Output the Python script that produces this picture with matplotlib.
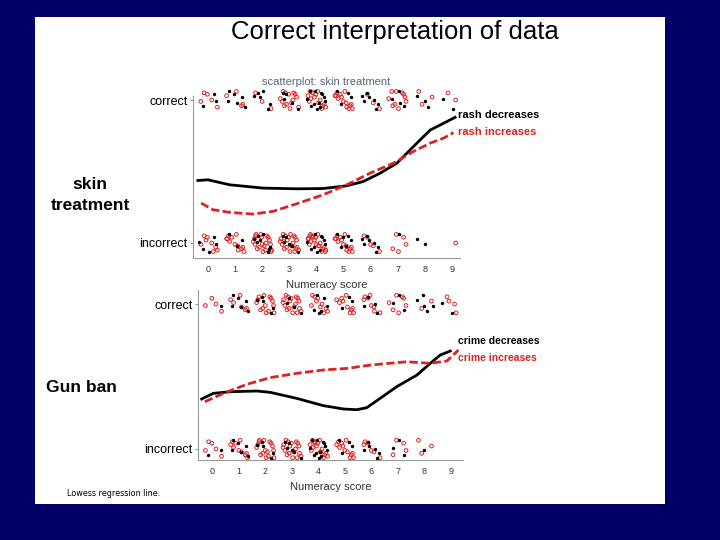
import numpy as np
import matplotlib.pyplot as plt
from matplotlib.patches import Rectangle

plt.rcParams['font.family'] = ['Liberation Sans', 'DejaVu Sans']

NAVY = '#000066'
RED = '#dd2222'

scores = list(range(10))

# point counts per numeracy score: (black group, red group)
skin_correct_black = [3, 6, 6, 5, 12, 4, 7, 4, 3, 2]
skin_correct_red = [5, 4, 3, 14, 14, 14, 3, 10, 3, 2]
skin_incorrect_black = [5, 3, 8, 6, 10, 6, 7, 1, 2, 0]
skin_incorrect_red = [8, 12, 20, 22, 20, 14, 5, 5, 0, 1]

gun_correct_black = [1, 6, 5, 4, 6, 3, 4, 3, 5, 2]
gun_correct_red = [4, 6, 14, 18, 10, 10, 8, 7, 2, 4]
gun_incorrect_black = [2, 6, 5, 6, 12, 4, 6, 3, 1, 0]
gun_incorrect_red = [5, 10, 16, 18, 16, 12, 6, 4, 3, 0]

# jitter offsets used to spread the points of one score
jitter_x = [-0.28, 0.12, -0.05, 0.31, -0.18, 0.22, 0.03, -0.33, 0.17, -0.10,
            0.27, -0.22, 0.08, -0.02, 0.35, -0.26, 0.14, -0.14, 0.20, -0.07,
            0.29, -0.31, 0.05, 0.24, -0.20, 0.10, -0.12, 0.33, -0.24, 0.00]
jitter_y = [0.03, -0.05, 0.06, -0.01, -0.04, 0.04, -0.06, 0.01, 0.05, -0.03,
            0.02, 0.06, -0.02, 0.04, -0.05, -0.01, 0.00, 0.05, -0.06, 0.02,
            -0.03, 0.03, 0.06, -0.04, 0.01, -0.02, 0.04, -0.06, 0.05, -0.01]

# lowess curves
skin_black_x = [-0.37, 0.0, 0.8, 2.03, 3.27, 4.25, 5.12, 5.73, 6.35, 6.97, 7.58, 8.2, 8.69, 9.12]
skin_black_y = [0.437, 0.442, 0.407, 0.384, 0.379, 0.381, 0.40, 0.43, 0.488, 0.558, 0.674, 0.79, 0.837, 0.879]
skin_red_x = [-0.25, 0.18, 0.8, 1.66, 2.4, 3.27, 4.25, 5.12, 5.98, 6.84, 7.58, 8.2, 8.69, 9.06]
skin_red_y = [0.279, 0.233, 0.214, 0.202, 0.221, 0.274, 0.337, 0.407, 0.488, 0.558, 0.64, 0.698, 0.733, 0.772]

gun_black_x = [-0.40, 0.04, 0.67, 1.68, 2.18, 3.19, 4.19, 4.95, 5.45, 5.83, 6.33, 6.96, 7.72, 8.22, 8.6, 8.98]
gun_black_y = [0.345, 0.384, 0.395, 0.40, 0.391, 0.349, 0.299, 0.276, 0.271, 0.285, 0.349, 0.43, 0.51, 0.59, 0.648, 0.676]
gun_red_x = [-0.28, 0.42, 1.3, 2.18, 3.19, 4.19, 5.08, 5.96, 7.34, 8.22, 8.85, 9.29]
gun_red_y = [0.326, 0.384, 0.446, 0.492, 0.522, 0.545, 0.556, 0.579, 0.602, 0.591, 0.607, 0.683]


def jittered(counts, level, shift):
    xs, ys = [], []
    for s, n in zip(scores, counts):
        start = (s * 7 + shift) % len(jitter_x)
        for k in range(n):
            j = (start + k) % len(jitter_x)
            xs.append(s + jitter_x[j])
            ys.append(level + jitter_y[j])
    return xs, ys


def draw_panel(ax, correct_b, correct_r, incorrect_b, incorrect_r,
               bx, by, rx, ry, xlim, ylim, spine_top):
    for counts, level, shift, is_red in [(correct_r, 1, 13, True), (incorrect_r, 0, 13, True),
                                         (correct_b, 1, 3, False), (incorrect_b, 0, 3, False)]:
        xs, ys = jittered(counts, level, shift)
        if is_red:
            ax.scatter(xs, ys, s=7, facecolors='none', edgecolors=RED, linewidths=0.7, zorder=2)
        else:
            ax.scatter(xs, ys, s=6, c='black', linewidths=0, zorder=3)
    ax.plot(bx, by, color='black', lw=2, zorder=4)
    ax.plot(rx, ry, color=RED, lw=2, ls=(0, (3, 1.2)), zorder=4)

    ax.set_xlim(*xlim)
    ax.set_ylim(*ylim)
    ax.set_xticks(scores)
    ax.set_yticks([0, 1])
    ax.set_yticklabels(['incorrect', 'correct'], fontsize=9)
    ax.tick_params(axis='x', labelsize=6.5, labelcolor='#333333', length=0, pad=5)
    ax.tick_params(axis='y', length=2, color='#999999', pad=2)
    ax.set_xlabel('Numeracy score', fontsize=8, color='#333333', labelpad=4)
    for side in ['top', 'right']:
        ax.spines[side].set_visible(False)
    for side in ['left', 'bottom']:
        ax.spines[side].set_color('#999999')
        ax.spines[side].set_linewidth(0.8)
    ax.spines['left'].set_bounds(ylim[0], spine_top)
    ax.patch.set_alpha(0)


fig = plt.figure(figsize=(7.2, 5.4), dpi=100, facecolor=NAVY)
bg = fig.add_axes([35 / 720, 36 / 540, 630 / 720, 487 / 540], zorder=-10)
bg.add_patch(Rectangle((0, 0), 1, 1, transform=bg.transAxes, facecolor='white', edgecolor='none'))
bg.axis('off')

ax1 = fig.add_axes([193 / 720, 282 / 540, 267 / 720, 170 / 540])
draw_panel(ax1, skin_correct_black, skin_correct_red, skin_incorrect_black, skin_incorrect_red,
           skin_black_x, skin_black_y, skin_red_x, skin_red_y,
           (-0.55, 9.3), (-0.105, 1.084), 1.03)
ax1.set_title('scatterplot: skin treatment', fontsize=8, color='#556677', pad=2)

ax2 = fig.add_axes([198 / 720, 80 / 540, 265 / 720, 170 / 540])
draw_panel(ax2, gun_correct_black, gun_correct_red, gun_incorrect_black, gun_incorrect_red,
           gun_black_x, gun_black_y, gun_red_x, gun_red_y,
           (-0.54, 9.46), (-0.076, 1.097), 1.097)

fig.text(395 / 720, 1 - 32 / 540, 'Correct interpretation of data', fontsize=18.5,
         ha='center', va='center')
fig.text(90 / 720, 1 - 195 / 540, 'skin\ntreatment', fontsize=12.5, fontweight='bold',
         ha='center', va='center', linespacing=1.5)
fig.text(81 / 720, 1 - 387 / 540, 'Gun ban', fontsize=12.5, fontweight='bold',
         ha='center', va='center')
fig.text(67 / 720, 1 - 494 / 540, 'Lowess regression line.', fontsize=5.8,
         ha='left', va='center', family='DejaVu Sans')

fig.text(458 / 720, 1 - 115 / 540, 'rash decreases', fontsize=8, fontweight='bold',
         color='black', ha='left', va='center')
fig.text(458 / 720, 1 - 132 / 540, 'rash increases', fontsize=8, fontweight='bold',
         color=RED, ha='left', va='center')
fig.text(458 / 720, 1 - 341 / 540, 'crime decreases', fontsize=7.5, fontweight='bold',
         color='black', ha='left', va='center')
fig.text(458 / 720, 1 - 358 / 540, 'crime increases', fontsize=7.5, fontweight='bold',
         color=RED, ha='left', va='center')

fig.savefig('out.png', dpi=100, facecolor=NAVY)
